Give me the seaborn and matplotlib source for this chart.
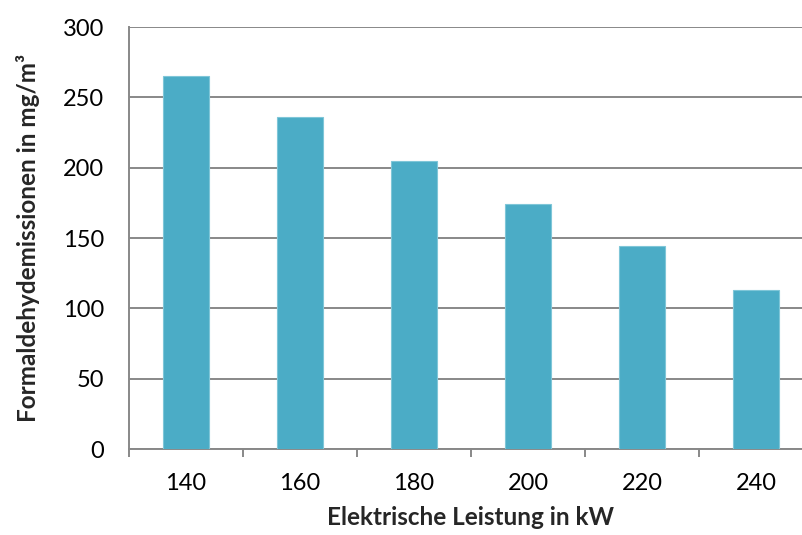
import matplotlib
matplotlib.use("Agg")
import matplotlib.pyplot as plt
import seaborn as sns
import pandas as pd
from matplotlib.ticker import FixedLocator

# Electrical power output (kW) and formaldehyde emissions (mg/m³)
leistung = ["140", "160", "180", "200", "220", "240"]
emissionen = [265, 236, 205, 174, 144, 113]
y_ticks = [0, 50, 100, 150, 200, 250, 300]

df = pd.DataFrame({"Leistung": leistung, "Emission": emissionen})

sns.set_theme(style="white")
plt.rcParams["font.family"] = ["Lato", "DejaVu Sans"]

fig = plt.figure(figsize=(8.03, 5.35), dpi=100)
ax = fig.add_axes([0.1606, 0.1607, 0.8519, 0.7888])

sns.barplot(data=df, x="Leistung", y="Emission", color="#4BACC6",
            width=0.4, edgecolor="#7FC6D8", linewidth=0.8,
            saturation=1, ax=ax, zorder=3)

ax.set_ylim(0, 300)
ax.set_xlim(-0.5, len(leistung) - 0.5)
ax.set_yticks(y_ticks)
ax.yaxis.grid(True, color="#888888", linewidth=1.4, zorder=0)
ax.set_axisbelow(True)

for side in ("top", "right"):
    ax.spines[side].set_visible(False)
for side in ("left", "bottom"):
    ax.spines[side].set_color("#888888")
    ax.spines[side].set_linewidth(1.4)

# category boundary ticks below the x-axis
ax.xaxis.set_minor_locator(FixedLocator([i - 0.5 for i in range(len(leistung) + 1)]))
ax.tick_params(axis="x", which="minor", length=6, width=1.4, color="#888888",
               direction="out", bottom=True)
ax.tick_params(axis="x", which="major", length=0, pad=17, labelsize=17,
               labelcolor="black")
ax.tick_params(axis="y", length=0, pad=18, labelsize=17, labelcolor="black")

ax.set_xlabel("Elektrische Leistung in kW", fontsize=17.5, fontweight="bold",
              labelpad=9)
ax.set_ylabel("Formaldehydemissionen in mg/m³", fontsize=17.5, fontweight="bold",
              labelpad=16)

fig.savefig("out.png", dpi=100)
